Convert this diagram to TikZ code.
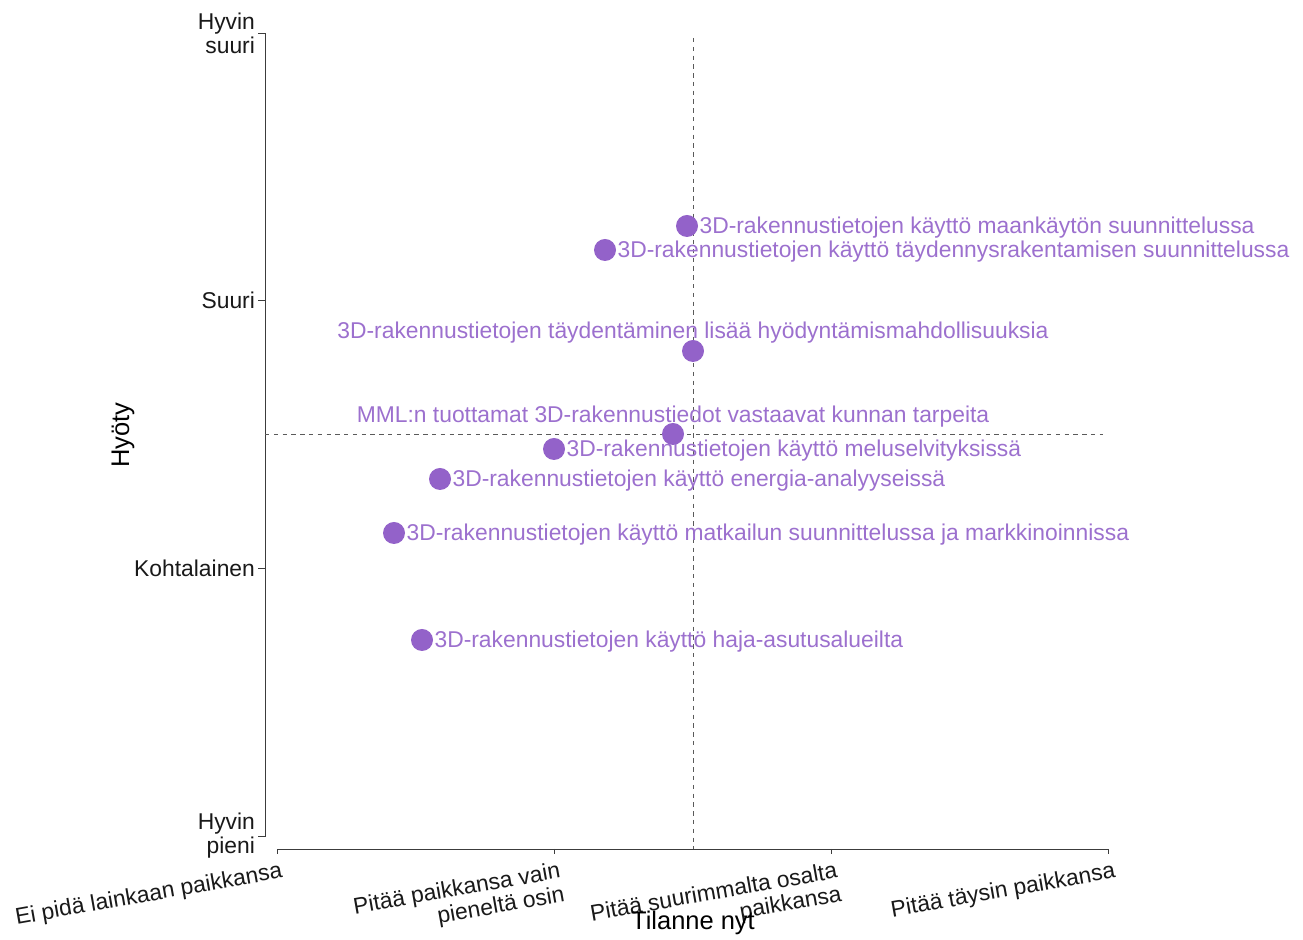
\documentclass[tikz,border=0pt]{standalone}
\usepackage{fontspec}
\setmainfont{Liberation Sans}
\definecolor{dotpurple}{RGB}{147,98,201}
\definecolor{txtpurple}{RGB}{156,112,206}
\definecolor{axisgray}{RGB}{60,60,60}
\definecolor{guidegray}{RGB}{90,90,90}

\begin{document}
\begin{tikzpicture}[
    pointdot/.style={circle, fill=dotpurple, minimum size=0.44cm, inner sep=0pt},
    lbl/.style={text=txtpurple, font=\fontsize{13}{14}\selectfont, inner sep=0.5pt},
    ticklbl/.style={text=black!90, font=\fontsize{13}{13.6}\selectfont, align=right, inner sep=1pt},
    axtitle/.style={font=\fontsize{14.5}{16}\selectfont, inner sep=0pt},
    axisline/.style={draw=axisgray, line width=0.5pt},
    guide/.style={draw=guidegray, line width=0.5pt, dash pattern=on 2.5pt off 2.5pt}]
    \useasboundingbox (0,0) rectangle (26.06,18.80);
    \coordinate (ytop) at (5.30, 18.14);
    \coordinate (ybot) at (5.30, 2.08);
    \coordinate (xl) at (5.54, 1.82);
    \coordinate (xr) at (22.16, 1.82);
    \draw[axisline] ([xshift=-0.14cm]ytop) -- (ytop) -- (ybot) -- ([xshift=-0.14cm]ybot);
    \draw[axisline] (5.16, 12.80) -- (5.30, 12.80);
    \draw[axisline] (5.16, 7.44) -- (5.30, 7.44);
    \draw[axisline] ([yshift=-0.10cm]xl) -- (xl) -- (xr) -- ([yshift=-0.10cm]xr);
    \draw[axisline] (11.08, 1.82) -- (11.08, 1.72);
    \draw[axisline] (16.62, 1.82) -- (16.62, 1.72);
    \node[ticklbl, anchor=east] (y3) at (5.14, 18.14) {Hyvin\\suuri};
    \node[ticklbl, anchor=east] (y2) at (5.14, 12.80) {Suuri};
    \node[ticklbl, anchor=east] (y1) at (5.14, 7.44) {Kohtalainen};
    \node[ticklbl, anchor=east] (y0) at (5.14, 2.08) {Hyvin\\pieni};
    \node[ticklbl, anchor=north east, rotate=10] (x0) at (5.64, 1.62) {Ei pidä lainkaan paikkansa};
    \node[ticklbl, anchor=north east, rotate=10] (x1) at (11.20, 1.62) {Pitää paikkansa vain\\pieneltä osin};
    \node[ticklbl, anchor=north east, rotate=10] (x2) at (16.74, 1.62) {Pitää suurimmalta osalta\\paikkansa};
    \node[ticklbl, anchor=north east, rotate=10] (x3) at (22.30, 1.62) {Pitää täysin paikkansa};
    \node[axtitle, rotate=90] (ytitle) at (2.46, 10.10) {Hyöty};
    \node[axtitle] (xtitle) at (13.86, 0.34) {Tilanne nyt};
    \draw[guide] (13.86, 18.04) -- (13.86, 1.82);
    \draw[guide] (5.30, 10.12) -- (22.06, 10.12);
    \node[pointdot] (a) at (13.74, 14.28) {};
    \node[pointdot] (b) at (12.10, 13.80) {};
    \node[pointdot] (c) at (13.86, 11.78) {};
    \node[pointdot] (d) at (13.46, 10.12) {};
    \node[pointdot] (e) at (11.08, 9.82) {};
    \node[pointdot] (f) at (8.80, 9.22) {};
    \node[pointdot] (g) at (7.88, 8.14) {};
    \node[pointdot] (h) at (8.44, 6.00) {};
    \node[lbl, anchor=west] (ta) at ([yshift=-0.04cm]a.east) {3D-rakennustietojen käyttö maankäytön suunnittelussa};
    \node[lbl, anchor=west] (tb) at ([yshift=-0.04cm]b.east) {3D-rakennustietojen käyttö täydennysrakentamisen suunnittelussa};
    \node[lbl, anchor=base] (tc) at ([yshift=0.24cm]c.center) {3D-rakennustietojen täydentäminen lisää hyödyntämismahdollisuuksia};
    \node[lbl, anchor=base] (td) at ([yshift=0.22cm]d.center) {MML:n tuottamat 3D-rakennustiedot vastaavat kunnan tarpeita};
    \node[lbl, anchor=west] (te) at ([yshift=-0.04cm]e.east) {3D-rakennustietojen käyttö meluselvityksissä};
    \node[lbl, anchor=west] (tf) at ([yshift=-0.04cm]f.east) {3D-rakennustietojen käyttö energia-analyyseissä};
    \node[lbl, anchor=west] (tg) at ([yshift=-0.04cm]g.east) {3D-rakennustietojen käyttö matkailun suunnittelussa ja markkinoinnissa};
    \node[lbl, anchor=west] (th) at ([yshift=-0.04cm]h.east) {3D-rakennustietojen käyttö haja-asutusalueilta};
\end{tikzpicture}
\end{document}
